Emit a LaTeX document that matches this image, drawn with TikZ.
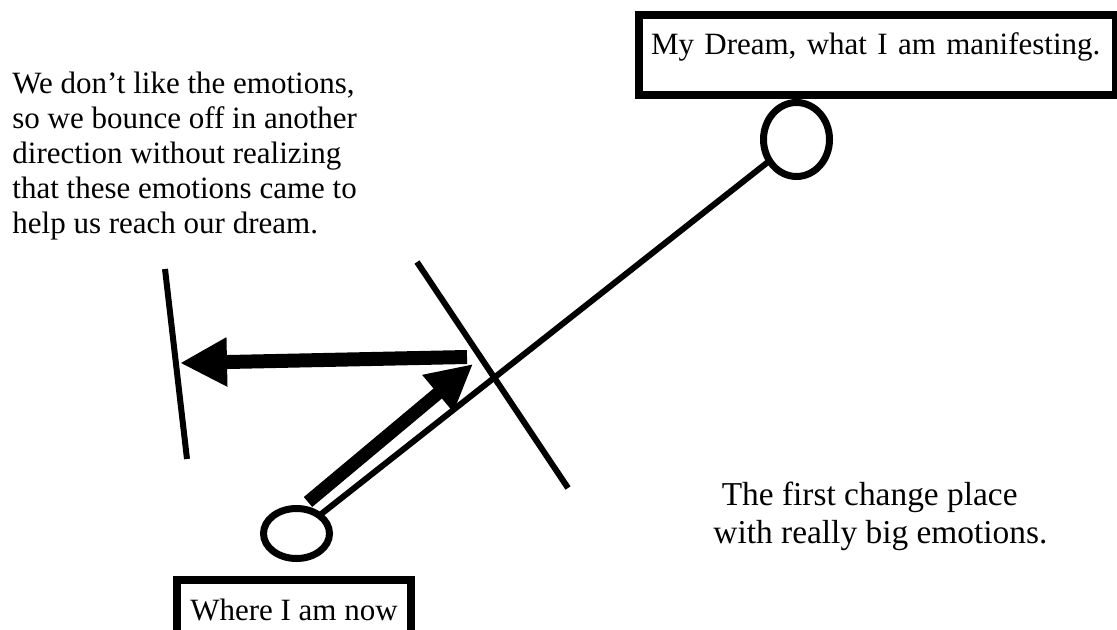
\documentclass[tikz,border=0pt]{standalone}
\usepackage{fontspec}
\setmainfont{Liberation Serif}
\usetikzlibrary{arrows.meta,shapes.geometric}

\begin{document}
\begin{tikzpicture}[
	x=0.5pt, y=-0.5pt,
	font=\fontsize{15.5pt}{17.5pt}\selectfont,
	box/.style={draw, line width=4pt, outer sep=0pt, inner xsep=6pt, inner ysep=9.5pt, text height=10.5pt, text depth=10.5pt, align=left},
	ring/.style={draw, ellipse, line width=3.5pt, inner sep=0pt, outer sep=0pt, minimum width=33pt},
	note/.style={align=left, inner sep=0pt, anchor=north west},
	bar/.style={line width=3pt},
	arr/.style={-{Triangle[length=23.5pt, width=23pt]}, line width=7pt}
]
\clip (0,0) rectangle (1117,630);

% boxes
\node[box, text width=226.5pt] (dreambox) at (877.5,55) {My Dream, what I am manifesting.};
\node[box, minimum width=117pt] (nowbox) at (294,620) {Where I am now};

% ends of the path
\node[ring, minimum height=37pt] (dream) at (796.5,139.5) {};
\node[ring, minimum height=25pt] (now) at (296.5,533.5) {};
\draw[bar] (now) -- (dream);

% barriers
\coordinate (cross1) at (417,262);
\coordinate (cross2) at (568,488);
\draw[bar] (cross1) -- (cross2);
\coordinate (wall1) at (165,269);
\coordinate (wall2) at (187,459);
\draw[bar] (wall1) -- (wall2);

% arrows
\coordinate (start) at (308,502);
\coordinate (turn) at (473,364);
\coordinate (back) at (467,357);
\coordinate (hit) at (180,363);
\draw[arr, line width=6.5pt, -{Triangle[length=23pt, width=22.5pt]}] (start) -- (turn);
\draw[arr] (back) -- (hit);

% texts
\node[note] (doubt) at (12,72) {We don’t like the emotions,\\so we bounce off in another\\direction without realizing\\that these emotions came to\\help us reach our dream.};
\node[note, font=\fontsize{16.7pt}{19pt}\selectfont] (change) at (713,482) {\hspace*{0.25em}The first change place\\with really big emotions.};
\end{tikzpicture}
\end{document}
